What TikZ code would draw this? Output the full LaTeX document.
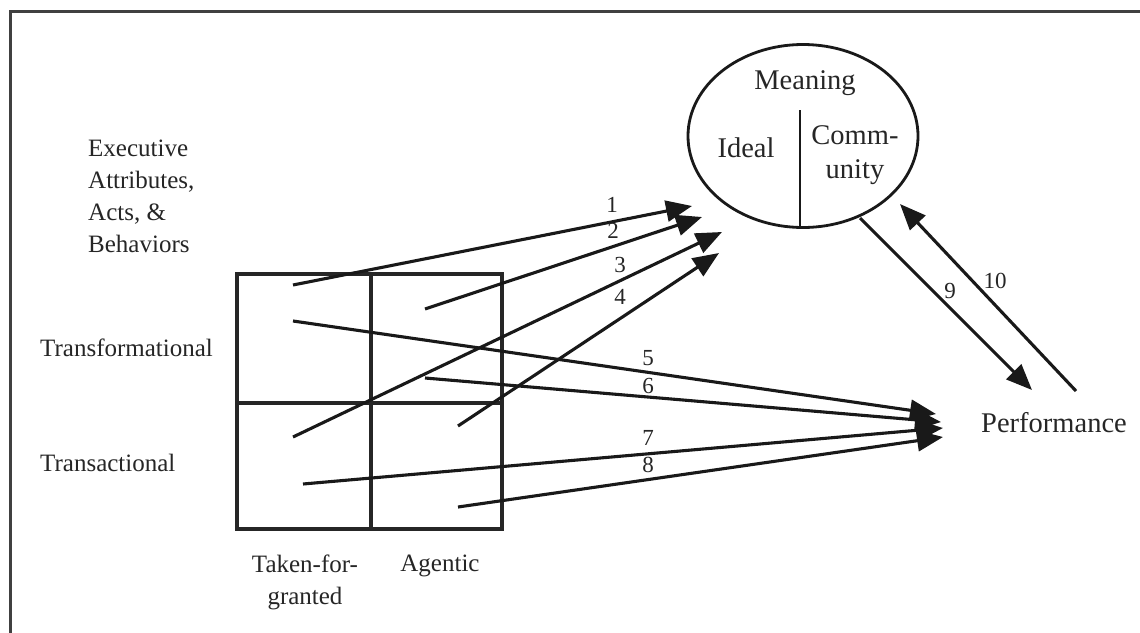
\documentclass[tikz,border=0pt]{standalone}
\usepackage{fontspec}
\setmainfont{Liberation Serif}
\usetikzlibrary{arrows.meta,shapes.geometric}
\begin{document}
\begin{tikzpicture}[x=1pt,y=-1pt,
  lbl/.style={font=\fontsize{25}{32}\selectfont, inner sep=0pt, text=black!85},
  biglbl/.style={font=\fontsize{28.5}{34}\selectfont, inner sep=0pt, text=black!85},
  num/.style={font=\fontsize{23}{24}\selectfont, inner sep=0pt, text=black!85},
  link/.style={line width=3.1pt, draw=black!90, -{Triangle[length=26pt,width=21pt]}},
  gridline/.style={line width=3.1pt, draw=black!85}]
\useasboundingbox (0,0) rectangle (1140,632);
\fill[white] (0,0) rectangle (1140,632);
% outer frame
\draw[line width=3pt, black!75] (10,11) rectangle (1200,700);

% 2x2 classification grid
\draw[gridline] (237,274) rectangle (502,529);
\draw[gridline] (371,274) -- (371,529);
\draw[gridline] (237,403) -- (502,403);

% meaning ellipse with divider
\node[ellipse, draw, line width=2.8pt, black!90, minimum width=230pt, minimum height=183pt, inner sep=0pt] (meaning) at (803,136) {};
\draw[line width=2.8pt, black!90] (800,110) -- (800,227);
\node[biglbl] (meaningtxt) at (805,83) {Meaning};
\node[biglbl] (ideal) at (746,148) {Ideal};
\node[biglbl, align=center] (community) at (855,155) {Comm-\\unity};

% side and bottom labels
\node[lbl, anchor=west, align=left] (exec) at (88,196) {Executive\\Attributes,\\Acts, \&\\Behaviors};
\node[lbl, anchor=west] (transf) at (40,348) {Transformational};
\node[lbl, anchor=west] (transa) at (40,463) {Transactional};
\node[lbl, align=center] (tfg) at (305,582) {Taken-for-\\granted};
\node[lbl] (agentic) at (440,566) {Agentic};
\node[biglbl] (perf) at (1054,423) {Performance};

% start and end points of the paths
\coordinate (s1) at (293,285);  \coordinate (e1) at (692,206);
\coordinate (s2) at (425,309);  \coordinate (e2) at (702,217);
\coordinate (s3) at (293,437);  \coordinate (e3) at (722,232);
\coordinate (s4) at (458,426);  \coordinate (e4) at (719,253);
\coordinate (s5) at (293,321);  \coordinate (e5) at (936,414);
\coordinate (s6) at (425,378);  \coordinate (e6) at (941,422);
\coordinate (s7) at (303,484);  \coordinate (e7) at (943,428);
\coordinate (s8) at (458,507);  \coordinate (e8) at (943,437);
\coordinate (s9) at (860,218);  \coordinate (e9) at (1032,390);
\coordinate (s10) at (1076,391); \coordinate (e10) at (900,204);

\foreach \i in {1,...,10} \draw[link] (s\i) -- (e\i);

% path numbers
\node[num] (n1) at (612,205) {1};
\node[num] (n2) at (613,231) {2};
\node[num] (n3) at (620,265) {3};
\node[num] (n4) at (620,297) {4};
\node[num] (n5) at (648,358) {5};
\node[num] (n6) at (648,386) {6};
\node[num] (n7) at (648,438) {7};
\node[num] (n8) at (648,465) {8};
\node[num] (n9) at (950,291) {9};
\node[num] (n10) at (995,281) {10};
\end{tikzpicture}
\end{document}
